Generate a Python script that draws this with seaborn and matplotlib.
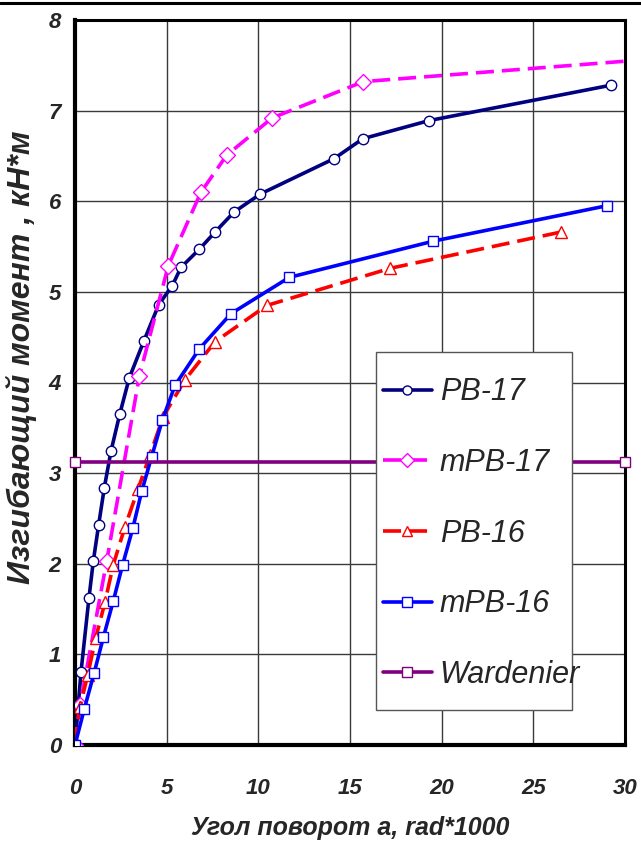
import numpy as np
import pandas as pd
import matplotlib
matplotlib.use("Agg")
import matplotlib.pyplot as plt
from matplotlib.lines import Line2D
from matplotlib.patches import Rectangle
import seaborn as sns

# ---- data ----
pb17_x = [0, 0.33, 0.76, 1.0, 1.29, 1.6, 1.96, 2.44, 2.96, 3.76, 4.57, 5.31, 5.78, 6.78, 7.64, 8.67, 10.11, 14.13, 15.7, 19.31, 29.22]
pb17_y = [0, 0.81, 1.62, 2.03, 2.43, 2.84, 3.24, 3.65, 4.05, 4.46, 4.86, 5.07, 5.27, 5.47, 5.66, 5.88, 6.08, 6.47, 6.69, 6.89, 7.28]

mpb17_x = [0, 0.27, 1.73, 3.51, 5.09, 6.87, 8.28, 10.76, 15.73, 30.3]
mpb17_y = [0, 0.44, 2.03, 4.07, 5.29, 6.10, 6.51, 6.92, 7.32, 7.55]

pb16_x = [0, 0.27, 0.69, 1.13, 1.64, 2.09, 2.73, 3.45, 4.09, 4.8, 6.0, 7.64, 10.46, 17.19, 26.5]
pb16_y = [0, 0.42, 0.77, 1.18, 1.58, 1.99, 2.41, 2.83, 3.2, 3.62, 4.03, 4.45, 4.85, 5.26, 5.66]

mpb16_x = [0, 0.51, 1.05, 1.55, 2.09, 2.6, 3.15, 3.64, 4.18, 4.77, 5.46, 6.78, 8.51, 11.69, 19.55, 29.0]
mpb16_y = [0, 0.40, 0.80, 1.19, 1.59, 1.99, 2.39, 2.80, 3.18, 3.59, 3.97, 4.37, 4.76, 5.16, 5.56, 5.95]

ward_x = [0, 30]
ward_y = [3.12, 3.12]

labels = ["PB-17", "mPB-17", "PB-16", "mPB-16", "Wardenier"]
x_ticks = [0, 5, 10, 15, 20, 25, 30]
y_ticks = [0, 1, 2, 3, 4, 5, 6, 7, 8]
x_label = "Угол поворот а, rad*1000"
y_label = "Изгибающий момент , кН*м"

sns.set_theme(style="white")
fam = ["Liberation Sans Narrow", "Liberation Sans", "DejaVu Sans"]
plt.rcParams["font.family"] = fam

fig = plt.figure(figsize=(6.41, 8.43), dpi=100)
ax = fig.add_axes([75/641, 98/843, 550/641, 725/843])

# grid
for gx in x_ticks[1:-1]:
    ax.axvline(gx, color="#3a3a3a", lw=1.0, zorder=0)
for gy in y_ticks[1:-1]:
    ax.axhline(gy, color="#3a3a3a", lw=1.0, zorder=0)

series = [
    (pb17_x, pb17_y, "#000080", "o", "-", 7.5, None),
    (mpb17_x, mpb17_y, "#FF00FF", "D", (0, (5, 2.2)), 8.5, list(range(len(mpb17_x) - 1))),
    (pb16_x, pb16_y, "#FF0000", "^", (0, (5, 2.2)), 8, None),
    (mpb16_x, mpb16_y, "#0000FF", "s", "-", 7.5, None),
    (ward_x, ward_y, "#800080", "s", "-", 7.5, None),
]
handles = []
for (xs, ys, col, mk, ls, ms, me), lab in zip(series, labels):
    df = pd.DataFrame({"x": xs, "y": ys})
    kw = dict(markevery=me) if me is not None else {}
    sns.lineplot(data=df, x="x", y="y", ax=ax, estimator=None, sort=False,
                 color=col, lw=2.6, linestyle=ls, marker=mk, markersize=ms,
                 markerfacecolor="white", markeredgecolor=col, markeredgewidth=1.0,
                 zorder=3, clip_on=(lab != "Wardenier"), **kw)
    handles.append(Line2D([0], [0], color=col, lw=2.6, linestyle=ls, marker=mk,
                          markersize=(7.5 if mk == "D" else 6.5), markerfacecolor="white",
                          markeredgecolor=col, markeredgewidth=1.0))

ax.set_xlim(0, 30)
ax.set_ylim(0, 8)
ax.set_xticks(x_ticks)
ax.set_yticks(y_ticks)
ax.set_xticklabels([str(v) for v in x_ticks], fontsize=16, fontweight="bold", fontstyle="italic")
ax.set_yticklabels([str(v) for v in y_ticks], fontsize=16, fontweight="bold", fontstyle="italic")
ax.tick_params(axis="x", direction="out", length=7, width=1, color="#555555", pad=17)
ax.tick_params(axis="y", direction="out", length=5, width=1, color="black", pad=5)
ax.set_xlabel(x_label, fontsize=18, fontweight="bold", fontstyle="italic", labelpad=12)
ax.set_ylabel(y_label, fontsize=23, fontweight="bold", fontstyle="italic")
ax.yaxis.set_label_coords(-0.069, 0.535)

for s in ["left", "bottom"]:
    ax.spines[s].set_linewidth(3)
    ax.spines[s].set_color("black")
for s in ["top", "right"]:
    ax.spines[s].set_linewidth(2.2)
    ax.spines[s].set_color("black")

# legend frame drawn separately so the entries can be placed freely
frame = Rectangle((0.547, 0.048), 0.357, 0.494, transform=ax.transAxes,
                  facecolor="white", edgecolor="#555555", lw=1.0, zorder=5)
ax.add_patch(frame)
leg = ax.legend(handles, labels, loc="upper left",
                bbox_to_anchor=(0.56, 0.507),
                prop={"family": fam, "style": "italic", "size": 22},
                handlelength=1.6, handletextpad=0.26, borderpad=0.0,
                labelspacing=1.33, frameon=False, borderaxespad=0)
leg.set_zorder(6)

fig.add_artist(Line2D([0, 1], [1 - 2.5/843, 1 - 2.5/843], color="black", lw=2.2,
                      transform=fig.transFigure))

fig.savefig("out.png", dpi=100)
